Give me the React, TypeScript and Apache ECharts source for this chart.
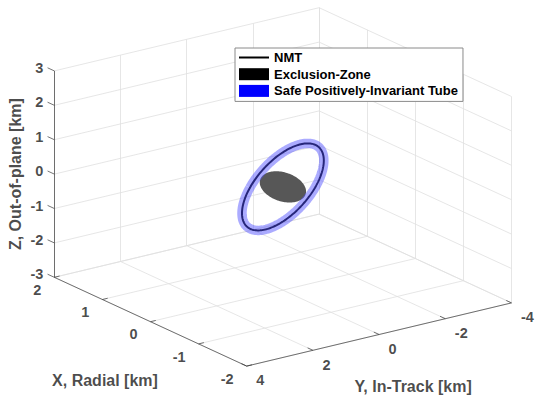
import React, { useEffect, useRef } from 'react';
import * as echarts from 'echarts';

// ---------------- Data ----------------
const xTicks = [2, 1, 0, -1, -2]; // X, Radial [km]
const yTicks = [4, 2, 0, -2, -4]; // Y, In-Track [km]
const zTicks = [3, 2, 1, 0, -1, -2, -3]; // Z, Out-of-plane [km]
const xRange = [-2, 2];
const yRange = [-4, 4];
const zRange = [-3, 3];

const axisTitles = ['X, Radial [km]', 'Y, In-Track [km]', 'Z, Out-of-plane [km]'];
const seriesNames = ['NMT', 'Exclusion-Zone', 'Safe Positively-Invariant Tube'];

// Natural Motion Trajectory (relative orbit) parameters [km, deg]
const nmtRadialAmplitude = 0.5;
const nmtInTrackAmplitude = 1.0;
const nmtOutOfPlaneAmplitude = 1.6;
const nmtOutOfPlanePhaseDeg = 172.8;
const nmtPhaseStepDeg = 2;

// Exclusion zone ellipsoid: centre and semi-axes [km] (radial, in-track, out-of-plane)
const exclusionCenter = [0, 0, 0];
const exclusionSemiAxes = [0.38, 0.43, 0.37];

// ---------------- View (orthographic projection of the 3-D box) ----------------
const VIEW = { ox: 282.9, oy: 186.9, xX: -48.1, yX: -22.2, xY: -33.1, yY: 7.9, zZ: 34.4 };
const proj = (x: number, y: number, z: number): [number, number] => [
  VIEW.ox + x * VIEW.xX + y * VIEW.xY,
  VIEW.oy + x * VIEW.yX + y * VIEW.yY - z * VIEW.zZ,
];

const FONT = "'Liberation Sans', Arial, Helvetica, sans-serif";
const TXT = '#1c1c1c';

type V3 = [number, number, number];
const cross = (a: number[], b: number[]): V3 => [
  a[1] * b[2] - a[2] * b[1],
  a[2] * b[0] - a[0] * b[2],
  a[0] * b[1] - a[1] * b[0],
];
const norm = (a: number[]): V3 => {
  const l = Math.hypot(a[0], a[1], a[2]);
  return [a[0] / l, a[1] / l, a[2] / l];
};

function buildOption() {
  const [xMin, xMax] = xRange;
  const [yMin, yMax] = yRange;
  const [zMin, zMax] = zRange;

  // grid lines on the three back planes
  const gridSegs: [number, number][][] = [];
  zTicks.forEach((z) => gridSegs.push([proj(xMax, yMax, z), proj(xMax, yMin, z)]));
  yTicks.forEach((y) => gridSegs.push([proj(xMax, y, zMin), proj(xMax, y, zMax)]));
  zTicks.forEach((z) => gridSegs.push([proj(xMax, yMin, z), proj(xMin, yMin, z)]));
  xTicks.forEach((x) => gridSegs.push([proj(x, yMin, zMin), proj(x, yMin, zMax)]));
  yTicks.forEach((y) => gridSegs.push([proj(xMax, y, zMin), proj(xMin, y, zMin)]));
  xTicks.forEach((x) => gridSegs.push([proj(x, yMax, zMin), proj(x, yMin, zMin)]));

  // axis lines and tick marks
  const axisSegs: [number, number][][] = [
    [proj(xMax, yMax, zMin), proj(xMax, yMax, zMax)],
    [proj(xMax, yMax, zMin), proj(xMin, yMax, zMin)],
    [proj(xMin, yMax, zMin), proj(xMin, yMin, zMin)],
  ];
  zTicks.forEach((z) => axisSegs.push([proj(xMax, yMax, z), proj(xMax + 0.14, yMax, z)]));
  xTicks.forEach((x) => axisSegs.push([proj(x, yMax, zMin), proj(x, yMax - 0.16, zMin)]));
  yTicks.forEach((y) => axisSegs.push([proj(xMin, y, zMin), proj(xMin + 0.11, y, zMin)]));

  // NMT
  const nmt: [number, number][] = [];
  const ph = (nmtOutOfPlanePhaseDeg * Math.PI) / 180;
  for (let d = 0; d <= 360; d += nmtPhaseStepDeg) {
    const t = (d * Math.PI) / 180;
    nmt.push(
      proj(
        nmtRadialAmplitude * Math.sin(t),
        nmtInTrackAmplitude * Math.cos(t),
        nmtOutOfPlaneAmplitude * Math.sin(t + ph)
      )
    );
  }

  // exclusion-zone silhouette
  const [rX, rY, rZ] = exclusionSemiAxes;
  const r1 = [VIEW.xX * rX, VIEW.xY * rY, 0];
  const r2 = [VIEW.yX * rX, VIEW.yY * rY, -VIEW.zZ * rZ];
  const n = norm(cross(r1, r2));
  const e1 = norm(cross(n, Math.abs(n[0]) < 0.9 ? [1, 0, 0] : [0, 1, 0]));
  const e2 = cross(n, e1);
  const ez: [number, number][] = [];
  for (let d = 0; d < 360; d += 3) {
    const t = (d * Math.PI) / 180;
    const u = [0, 1, 2].map((i) => Math.cos(t) * e1[i] + Math.sin(t) * e2[i]);
    ez.push(
      proj(
        exclusionCenter[0] + rX * u[0],
        exclusionCenter[1] + rY * u[1],
        exclusionCenter[2] + rZ * u[2]
      )
    );
  }

  const tickLabel = { show: true, position: 'inside', fontFamily: FONT, fontWeight: 'bold', fontSize: 14.5, color: TXT };

  const xMid = (xMin + xMax) / 2;
  const yMid = (yMin + yMax) / 2;
  const zMid = (zMin + zMax) / 2;

  return {
    animation: false,
    backgroundColor: '#ffffff',
    grid: { left: 0, top: 0, width: 535, height: 402, containLabel: false },
    xAxis: { type: 'value', min: 0, max: 535, show: false },
    yAxis: { type: 'value', min: 0, max: 402, inverse: true, show: false },
    legend: {
      orient: 'vertical',
      left: 235,
      top: 48,
      padding: [3, 5, 4, 4],
      itemGap: 3.7,
      itemWidth: 30,
      itemHeight: 12,
      symbolKeepAspect: true,
      backgroundColor: '#ffffff',
      borderColor: '#8a8a8a',
      borderWidth: 1,
      borderRadius: 0,
      selectedMode: false,
      textStyle: { fontFamily: FONT, fontWeight: 'bold', fontSize: 13, color: '#000' },
      data: [
        { name: seriesNames[0], icon: 'path://M0,0H30V2H0Z', itemStyle: { color: '#000000' } },
        { name: seriesNames[1], icon: 'rect', itemStyle: { color: '#000000' } },
        { name: seriesNames[2], icon: 'rect', itemStyle: { color: '#0000ff', opacity: 1 } },
      ],
    },
    series: [
      {
        type: 'lines',
        coordinateSystem: 'cartesian2d',
        silent: true,
        z: 1,
        lineStyle: { color: '#e0e0e0', width: 0.8, opacity: 1 },
        data: gridSegs.map((c) => ({ coords: c })),
      },
      {
        type: 'lines',
        coordinateSystem: 'cartesian2d',
        silent: true,
        z: 2,
        lineStyle: { color: '#3a3a3a', width: 0.7, opacity: 1 },
        data: axisSegs.map((c) => ({ coords: c })),
      },
      {
        type: 'custom',
        name: seriesNames[1],
        coordinateSystem: 'cartesian2d',
        silent: true,
        z: 3,
        itemStyle: { color: '#575757' },
        data: [proj(exclusionCenter[0], exclusionCenter[1], exclusionCenter[2])],
        renderItem: (params: any, api: any) => ({
          type: 'polygon',
          shape: { points: ez.map((p) => api.coord(p)) },
          style: { fill: '#575757' },
        }),
      },
      {
        type: 'line',
        name: seriesNames[0],
        z: 4,
        silent: true,
        symbol: 'none',
        color: '#000000',
        lineStyle: { color: '#000000', width: 2 },
        data: nmt,
      },
      {
        type: 'line',
        name: seriesNames[2],
        z: 5,
        silent: true,
        symbol: 'none',
        color: 'rgba(80,80,255,0.48)',
        lineStyle: { color: 'rgba(80,80,255,0.48)', width: 9.5 },
        data: nmt,
      },
      {
        type: 'scatter',
        silent: true,
        symbolSize: 0,
        z: 6,
        label: { ...tickLabel, align: 'right', verticalAlign: 'middle', offset: [-11, -3] },
        data: zTicks.map((z) => ({ value: proj(xMax, yMax, z), label: { formatter: String(z) } })),
      },
      {
        type: 'scatter',
        silent: true,
        symbolSize: 0,
        z: 6,
        label: { ...tickLabel, align: 'right', verticalAlign: 'middle', offset: [-13, 12.6] },
        data: xTicks.map((x) => ({ value: proj(x, yMax, zMin), label: { formatter: String(x) } })),
      },
      {
        type: 'scatter',
        silent: true,
        symbolSize: 0,
        z: 6,
        label: { ...tickLabel, align: 'left', verticalAlign: 'middle', offset: [9.5, 14.3] },
        data: yTicks.map((y) => ({ value: proj(xMin, y, zMin), label: { formatter: String(y) } })),
      },
      {
        type: 'scatter',
        silent: true,
        symbolSize: 0,
        z: 6,
        label: { show: true, position: 'inside', fontFamily: FONT, fontWeight: 'bold', fontSize: 16, color: TXT, align: 'center', verticalAlign: 'middle' },
        data: [
          { value: proj(xMid, yMax, zMin), label: { formatter: axisTitles[0], offset: [-45.5, 58.3] } },
          { value: proj(xMin, yMid, zMin), label: { formatter: axisTitles[1], offset: [34, 51.5] } },
          { value: proj(xMax, yMax, zMid), label: { formatter: axisTitles[2], offset: [0, -38.5], rotate: 90 } },
        ],
      },
    ],
  };
}

export default function App() {
  const ref = useRef<HTMLDivElement>(null);
  useEffect(() => {
    if (!ref.current) return;
    const chart = echarts.init(ref.current, null, { renderer: 'svg' });
    chart.setOption(buildOption() as any);
    return () => chart.dispose();
  }, []);
  return (
    <div
      ref={ref}
      style={{ position: 'fixed', left: 0, top: 0, width: 535, height: 402, background: '#fff' }}
    />
  );
}
